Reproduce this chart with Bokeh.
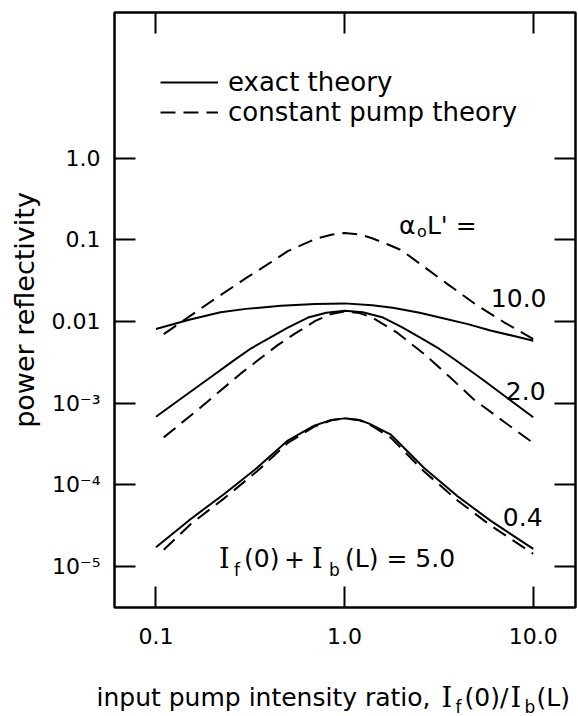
from bokeh.plotting import figure
from bokeh.models import Range1d, LogAxis, FixedTicker, Label, Legend, LegendItem
from bokeh.embed import file_html
from bokeh.resources import INLINE

FONT = "DejaVu Sans"
SERIF = "DejaVu Serif"

# ---------------- data ----------------
x_ticks = [0.1, 1.0, 10.0]
x_tick_labels = {0.1: "0.1", 1.0: "1.0", 10.0: "10.0"}
y_ticks = [1e-5, 1e-4, 1e-3, 1e-2, 1e-1, 1.0]
y_tick_labels = {1.0: "1.0", 0.1: "0.1", 0.01: "0.01",
                 0.001: "10\u207b\u00b3", 0.0001: "10\u207b\u2074", 1e-05: "10\u207b\u2075"}

# alpha0 L' = 10.0, constant pump theory (dashed)
a10_const_x = [0.11, 0.15, 0.2, 0.3, 0.4, 0.5, 0.7, 0.85, 1.0, 1.2, 1.4, 1.7, 2.0, 2.6, 3.5, 5.0, 7.0, 10.0]
a10_const_y = [0.0070, 0.0115, 0.0182, 0.034, 0.052, 0.073, 0.103, 0.116, 0.122, 0.117, 0.105, 0.088, 0.075, 0.048, 0.029, 0.0160, 0.0098, 0.0061]
# alpha0 L' = 10.0, exact theory (solid)
a10_exact_x = [0.1, 0.15, 0.22, 0.3, 0.46, 0.7, 1.0, 1.4, 1.8, 2.5, 3.2, 4.5, 6.0, 8.0, 10.0]
a10_exact_y = [0.0081, 0.0105, 0.0130, 0.0143, 0.0156, 0.0164, 0.0167, 0.0158, 0.0148, 0.0128, 0.0112, 0.0093, 0.0077, 0.0066, 0.0058]
# alpha0 L' = 2.0, exact theory (solid)
a2_exact_x = [0.1, 0.136, 0.19, 0.26, 0.32, 0.39, 0.5, 0.64, 0.8, 1.0, 1.25, 1.6, 2.0, 2.6, 3.1, 3.85, 5.3, 7.35, 10.0]
a2_exact_y = [6.8e-4, 1.14e-3, 1.99e-3, 3.36e-3, 4.7e-3, 6.1e-3, 8.4e-3, 1.12e-2, 1.28e-2, 1.36e-2, 1.3e-2, 1.12e-2, 8.6e-3, 6.1e-3, 4.8e-3, 3.4e-3, 2.0e-3, 1.14e-3, 6.7e-4]
# alpha0 L' = 2.0, constant pump theory (dashed)
a2_const_x = [0.11, 0.173, 0.28, 0.44, 0.54, 0.7, 0.85, 1.0, 1.2, 1.4, 1.9, 2.64, 3.6, 4.86, 7.0, 9.9]
a2_const_y = [3.8e-4, 8.9e-4, 2.28e-3, 5.1e-3, 7.0e-3, 1.02e-2, 1.24e-2, 1.33e-2, 1.27e-2, 1.12e-2, 7.3e-3, 4.0e-3, 2.1e-3, 1.1e-3, 5.9e-4, 3.3e-4]
# alpha0 L' = 0.4, exact theory (solid)
a04_exact_x = [0.1, 0.153, 0.23, 0.346, 0.5, 0.69, 0.85, 1.0, 1.2, 1.35, 1.76, 2.64, 3.97, 5.96, 10.0]
a04_exact_y = [1.71e-5, 3.8e-5, 7.7e-5, 1.63e-4, 3.47e-4, 5.3e-4, 6.2e-4, 6.5e-4, 6.2e-4, 5.6e-4, 4.1e-4, 1.6e-4, 7.2e-5, 3.6e-5, 1.63e-5]
# alpha0 L' = 0.4, constant pump theory (dashed)
a04_const_x = [0.11, 0.153, 0.23, 0.346, 0.5, 0.69, 0.85, 1.0, 1.2, 1.35, 1.76, 2.64, 3.97, 5.96, 10.0]
a04_const_y = [1.59e-5, 3.3e-5, 6.8e-5, 1.48e-4, 3.25e-4, 5.15e-4, 6.15e-4, 6.5e-4, 6.15e-4, 5.5e-4, 3.75e-4, 1.45e-4, 6.4e-5, 3.15e-5, 1.42e-5]

curve_labels = ["10.0", "2.0", "0.4"]

# ---------------- main figure ----------------
p = figure(x_axis_type="log", y_axis_type="log",
           x_range=Range1d(0.0603, 16.75), y_range=Range1d(3.12e-6, 61.5),
           frame_width=461, frame_height=595,
           min_border_left=114, min_border_right=3, min_border_top=12, min_border_bottom=60,
           output_backend="svg", toolbar_location=None,
           background_fill_color="white", border_fill_color="white")
p.xgrid.visible = False
p.ygrid.visible = False
p.outline_line_color = "black"
p.outline_line_width = 2


def style_axis(ax, ticks):
    ax.ticker = FixedTicker(ticks=ticks, minor_ticks=[])
    ax.major_tick_in = 21
    ax.major_tick_out = 0
    ax.minor_tick_in = 0
    ax.minor_tick_out = 0
    ax.major_tick_line_width = 2
    ax.major_tick_line_color = "black"
    ax.axis_line_width = 2
    ax.axis_line_color = "black"
    ax.major_label_text_font = FONT
    ax.major_label_text_color = "black"


xb = p.xaxis[0]
style_axis(xb, x_ticks)
xb.major_label_overrides = x_tick_labels
xb.major_label_text_font_size = "22px"
xb.major_label_standoff = 20

yl = p.yaxis[0]
style_axis(yl, y_ticks)
yl.major_label_overrides = y_tick_labels
yl.major_label_text_font_size = "22px"
yl.major_label_standoff = 14
yl.axis_label = "power reflectivity"
yl.axis_label_text_font = FONT
yl.axis_label_text_font_size = "27px"
yl.axis_label_text_font_style = "normal"
yl.axis_label_text_color = "black"
yl.axis_label_standoff = 9

top_ax = LogAxis()
style_axis(top_ax, x_ticks)
top_ax.major_label_overrides = {t: "" for t in x_ticks}
top_ax.major_label_text_font_size = "1px"
top_ax.major_label_standoff = 0
p.add_layout(top_ax, "above")

right_ax = LogAxis()
style_axis(right_ax, y_ticks)
right_ax.major_label_overrides = {t: "" for t in y_ticks}
right_ax.major_label_text_font_size = "1px"
right_ax.major_label_standoff = 0
p.add_layout(right_ax, "right")

# ---------------- curves ----------------
DASH = "15 8"
r_a10c = p.line(a10_const_x, a10_const_y, line_color="black", line_width=2, line_dash=DASH)
r_a10e = p.line(a10_exact_x, a10_exact_y, line_color="black", line_width=2)
r_a2e = p.line(a2_exact_x, a2_exact_y, line_color="black", line_width=2)
r_a2c = p.line(a2_const_x, a2_const_y, line_color="black", line_width=2, line_dash=DASH)
r_a04e = p.line(a04_exact_x, a04_exact_y, line_color="black", line_width=2)
r_a04c = p.line(a04_const_x, a04_const_y, line_color="black", line_width=2, line_dash=DASH)

legend = Legend(items=[LegendItem(label="exact theory", renderers=[r_a10e]),
                       LegendItem(label="constant pump theory", renderers=[r_a10c])],
                location=(46, 480), glyph_width=58, glyph_height=30, label_height=30,
                label_standoff=10, spacing=0, padding=0, margin=0,
                border_line_alpha=0, background_fill_alpha=0,
                label_text_font=FONT, label_text_font_size="26px", label_text_color="black")
p.add_layout(legend)


# ---------------- annotations ----------------
def lab(fig, x, y, text, size="25px", font=FONT, dx=0, dy=0):
    fig.add_layout(Label(x=x, y=y, text=text, text_font=font, text_font_size=size,
                         text_color="black", text_align="left", text_baseline="alphabetic",
                         x_offset=dx, y_offset=dy))


# alpha_o L' =
AX, AY = 1.94, 0.150
lab(p, AX, AY, "\u03b1")
lab(p, AX, AY, "o", size="16px", dx=18, dy=-6)
lab(p, AX, AY, "L' =", dx=28)

# curve parameter values
lab(p, 5.96, 0.0196, curve_labels[0])
lab(p, 7.16, 1.42e-3, curve_labels[1])
lab(p, 6.90, 4.06e-5, curve_labels[2])

# I_f(0) + I_b(L) = 5.0
FX, FY = 0.216, 1.24e-5
lab(p, FX, FY, "I", size="27px", font=SERIF)
lab(p, FX, FY, "f", size="17px", dx=15, dy=-11)
lab(p, FX, FY, "(0)", dx=25)
lab(p, FX, FY, "+", dx=65)
lab(p, FX, FY, "I", size="27px", font=SERIF, dx=93)
lab(p, FX, FY, "b", size="17px", dx=110, dy=-11)
lab(p, FX, FY, "(L) = 5.0", dx=126)

# ---------------- x-axis title strip (separate root, pixel coordinates) ----------------
t = figure(width=578, height=49, x_range=Range1d(0, 578), y_range=Range1d(0, 49),
           x_axis_location=None, y_axis_location=None, min_border=0,
           output_backend="svg", toolbar_location=None,
           background_fill_color="white", border_fill_color="white")
t.outline_line_color = None
t.xgrid.visible = False
t.ygrid.visible = False

TX, TY = 96, 19
lab(t, TX, TY, "input pump intensity ratio,")
lab(t, TX, TY, "I", size="27px", font=SERIF, dx=345)
lab(t, TX, TY, "f", size="17px", dx=359, dy=-9)
lab(t, TX, TY, "(0)/", dx=368)
lab(t, TX, TY, "I", size="27px", font=SERIF, dx=414)
lab(t, TX, TY, "b", size="17px", dx=428, dy=-9)
lab(t, TX, TY, "(L)", dx=440)

open("out.html", "w").write(file_html([p, t], INLINE))
